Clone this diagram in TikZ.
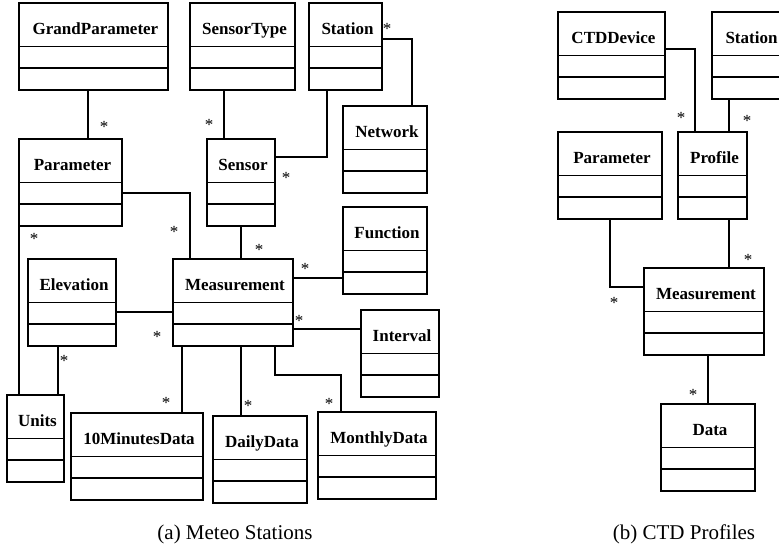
\documentclass[tikz,border=0pt]{standalone}
\usepackage{fontspec}
\setmainfont{Liberation Serif}
\usetikzlibrary{shapes.multipart,positioning}
\newcommand{\clsname}[1]{\rule[-11.5pt]{0pt}{42pt}\hspace{4pt}#1}

\begin{document}
\begin{tikzpicture}[x=1pt, y=-1pt, line width=1.3pt,
  cls/.style={draw, rectangle split, rectangle split parts=3, rectangle split empty part height=20.5pt, rectangle split empty part depth=0pt, inner ysep=0pt, inner xsep=2pt, outer sep=0pt, anchor=north west, minimum width=#1, font=\fontsize{17}{20}\selectfont\bfseries},
  mult/.style={font=\fontsize{17}{20}\selectfont, inner sep=0pt},
  subcap/.style={font=\fontsize{21}{24}\selectfont}]
\useasboundingbox (0,0) rectangle (779,550);

% (a) meteo stations
\node[cls=149pt] (gparam) at (19,3) {\clsname{GrandParameter}};
\node[cls=105pt] (stype) at (190,3) {\clsname{SensorType}};
\node[cls=73pt] (station) at (309,3) {\clsname{Station}};
\node[cls=103pt] (param) at (19,139) {\clsname{Parameter}};
\node[cls=68pt] (sensor) at (207,139) {\clsname{Sensor}};
\node[cls=84pt] (network) at (343,106) {\clsname{Network}};
\node[cls=84pt] (func) at (343,207) {\clsname{Function}};
\node[cls=88pt] (elev) at (28,259) {\clsname{Elevation}};
\node[cls=120pt] (meas) at (173,259) {\clsname{Measurement}};
\node[cls=78pt] (interval) at (361,310) {\clsname{Interval}};
\node[cls=57pt] (units) at (7,395) {\clsname{Units}};
\node[cls=132pt] (tenmin) at (71,413) {\clsname{10MinutesData}};
\node[cls=94pt] (daily) at (213,416) {\clsname{DailyData}};
\node[cls=118pt] (monthly) at (318,412) {\clsname{MonthlyData}};

\draw ([xshift=17.5pt]param.north) -- ([xshift=17.5pt]param.north |- gparam.south) node[mult, pos=0, shift={(16pt,12pt)}] {*};
\draw ([xshift=-17pt]sensor.north) -- ([xshift=-17pt]sensor.north |- stype.south) node[mult, pos=0, shift={(-15pt,14pt)}] {*};
\draw ([xshift=-18.5pt]station.south) |- ([yshift=25.5pt]sensor.east) node[mult, pos=1, shift={(11pt,-21pt)}] {*};
\draw ([yshift=7.5pt]station.east) -| ([xshift=27pt]network.north) node[mult, pos=0, shift={(5pt,10pt)}] {*};
\draw ([yshift=-10.5pt]param.east) -| ([xshift=-43pt]meas.north) node[mult, pos=1, shift={(-16pt,27pt)}] {*};
\draw (param.south west) -- (param.south west |- units.north) node[mult, pos=0, shift={(15pt,-13pt)}] {*};
\draw (sensor.south) -- (sensor.south |- meas.north) node[mult, pos=1, shift={(18pt,9pt)}] {*};
\draw ([yshift=-9.5pt]elev.east) -- ([yshift=-9.5pt]elev.east -| meas.west) node[mult, pos=1, shift={(-16pt,-25pt)}] {*};
\draw ([xshift=-14pt]elev.south) -- ([xshift=-14pt]elev.south |- units.north) node[mult, pos=0, shift={(6pt,-15pt)}] {*};
\draw ([yshift=24.5pt]meas.east) -- ([yshift=24.5pt]meas.east -| func.west) node[mult, pos=0, shift={(12pt,9pt)}] {*};
\draw ([yshift=-26.5pt]meas.east) -- ([yshift=-26.5pt]meas.east -| interval.west) node[mult, pos=0, shift={(6pt,8pt)}] {*};
\draw ([xshift=-51pt]meas.south) -- ([xshift=-51pt]meas.south |- tenmin.north) node[mult, pos=1, shift={(-16pt,10pt)}] {*};
\draw ([xshift=8pt]meas.south) -- ([xshift=8pt]meas.south |- daily.north) node[mult, pos=1, shift={(7pt,10pt)}] {*};
\draw ([xshift=42pt]meas.south) -- ++(0,29) -| ([xshift=-36pt]monthly.north) node[mult, pos=1, shift={(-12pt,8pt)}] {*};

% (b) ctd profiles
\node[cls=107pt] (ctd) at (558,12) {\clsname{CTDDevice}};
\node[cls=75pt] (station2) at (712,12) {\clsname{Station}};
\node[cls=104pt] (param2) at (558,132) {\clsname{Parameter}};
\node[cls=69pt] (profile) at (678,132) {\clsname{Profile}};
\node[cls=120pt] (meas2) at (644,268) {\clsname{Measurement}};
\node[cls=94pt] (data) at (661,404) {\clsname{Data}};

\draw ([yshift=6.5pt]ctd.east) -| ([xshift=-17.5pt]profile.north) node[mult, pos=1, shift={(-14pt,14pt)}] {*};
\draw ([xshift=-20.5pt]station2.south) -- ([xshift=-20.5pt]station2.south |- profile.north) node[mult, pos=1, shift={(18pt,11pt)}] {*};
\draw (param2.south) |- ([yshift=24.5pt]meas2.west) node[mult, pos=1, shift={(-30pt,-16pt)}] {*};
\draw ([xshift=16.5pt]profile.south) -- ([xshift=16.5pt]profile.south |- meas2.north) node[mult, pos=1, shift={(19pt,8pt)}] {*};
\draw ([xshift=4pt]meas2.south) -- ([xshift=4pt]meas2.south |- data.north) node[mult, pos=1, shift={(-15pt,9pt)}] {*};

\node[subcap] (capa) at (235,534) {(a) Meteo Stations};
\node[subcap] (capb) at (684,534) {(b) CTD Profiles};
\end{tikzpicture}
\end{document}
